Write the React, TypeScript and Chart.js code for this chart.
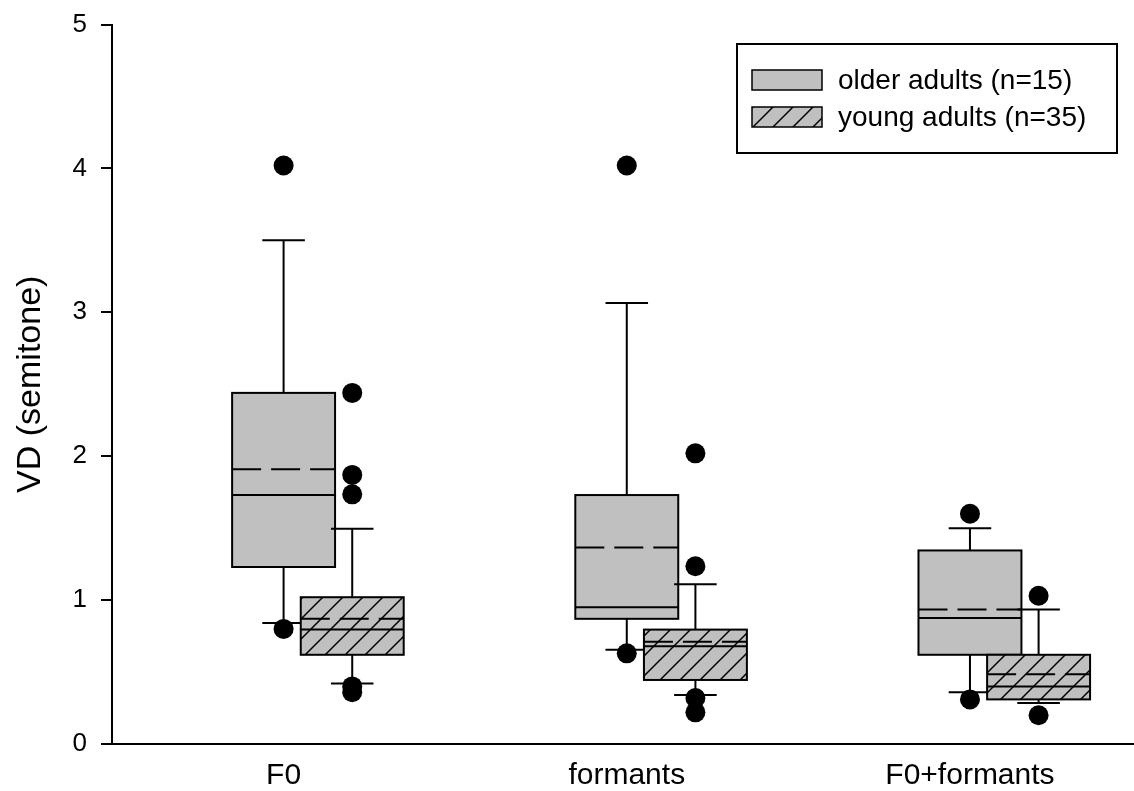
import React, { useEffect, useRef } from 'react';
import { Chart, registerables } from 'chart.js';

Chart.register(...registerables);

// ---- data ----
const categories = ['F0', 'formants', 'F0+formants'];
const groupNames = ['older adults (n=15)', 'young adults (n=35)'];
const yTickValues = [0, 1, 2, 3, 4, 5];

const olderLowerWhisker = [0.84, 0.655, 0.36];
const olderQ1 = [1.23, 0.87, 0.62];
const olderMedian = [1.73, 0.95, 0.875];
const olderMean = [1.91, 1.365, 0.935];
const olderQ3 = [2.44, 1.73, 1.345];
const olderUpperWhisker = [3.5, 3.065, 1.5];
const olderOutliers = [[4.02, 0.8], [4.02, 0.63], [1.6, 0.31]];

const youngLowerWhisker = [0.42, 0.34, 0.285];
const youngQ1 = [0.62, 0.445, 0.31];
const youngMedian = [0.795, 0.68, 0.4];
const youngMean = [0.87, 0.71, 0.485];
const youngQ3 = [1.02, 0.795, 0.62];
const youngUpperWhisker = [1.495, 1.11, 0.935];
const youngOutliers = [[2.44, 1.87, 1.735, 0.4, 0.36], [2.02, 1.235, 0.32, 0.22], [1.03, 0.2]];

const FONT = '"Liberation Sans", Arial, Helvetica, sans-serif';
const GRAY = '#c0c0c0';

const groups = [
  { offset: 0, lw: olderLowerWhisker, q1: olderQ1, med: olderMedian, mean: olderMean, q3: olderQ3, uw: olderUpperWhisker, hatch: false },
  { offset: 0.2, lw: youngLowerWhisker, q1: youngQ1, med: youngMedian, mean: youngMean, q3: youngQ3, uw: youngUpperWhisker, hatch: true },
];
const BOX_HALF = 0.15;
const CAP_HALF = 0.062;

function makeHatch(ctx: CanvasRenderingContext2D): CanvasPattern | string {
  const c = document.createElement('canvas');
  c.width = 20;
  c.height = 20;
  const g = c.getContext('2d');
  if (!g) return GRAY;
  g.fillStyle = GRAY;
  g.fillRect(0, 0, 20, 20);
  g.strokeStyle = '#000';
  g.lineWidth = 1.5;
  g.beginPath();
  g.moveTo(-10, 10); g.lineTo(10, -10);
  g.moveTo(0, 20); g.lineTo(20, 0);
  g.moveTo(10, 30); g.lineTo(30, 10);
  g.stroke();
  return ctx.createPattern(c, 'repeat') || GRAY;
}

const boxPlugin = {
  id: 'boxes',
  beforeDatasetsDraw(chart: any) {
    const { ctx, scales, chartArea } = chart;
    const x = scales.x;
    const y = scales.y;
    const hatch = makeHatch(ctx);
    ctx.save();
    groups.forEach((g) => {
      categories.forEach((_, i) => {
        const cx = x.getPixelForValue(i + 1 + g.offset);
        const l = x.getPixelForValue(i + 1 + g.offset - BOX_HALF);
        const r = x.getPixelForValue(i + 1 + g.offset + BOX_HALF);
        const capL = x.getPixelForValue(i + 1 + g.offset - CAP_HALF);
        const capR = x.getPixelForValue(i + 1 + g.offset + CAP_HALF);
        const yq1 = y.getPixelForValue(g.q1[i]);
        const yq3 = y.getPixelForValue(g.q3[i]);
        const ylw = y.getPixelForValue(g.lw[i]);
        const yuw = y.getPixelForValue(g.uw[i]);
        const ymed = y.getPixelForValue(g.med[i]);
        const ymean = y.getPixelForValue(g.mean[i]);
        ctx.strokeStyle = '#000';
        ctx.lineWidth = 2;
        ctx.setLineDash([]);
        // whiskers
        ctx.beginPath();
        ctx.moveTo(cx, yq3); ctx.lineTo(cx, yuw);
        ctx.moveTo(capL, yuw); ctx.lineTo(capR, yuw);
        ctx.moveTo(cx, yq1); ctx.lineTo(cx, ylw);
        ctx.moveTo(capL, ylw); ctx.lineTo(capR, ylw);
        ctx.stroke();
        // box
        ctx.fillStyle = g.hatch ? hatch : GRAY;
        ctx.fillRect(l, yq3, r - l, yq1 - yq3);
        ctx.strokeRect(l, yq3, r - l, yq1 - yq3);
        // median
        ctx.beginPath();
        ctx.moveTo(l, ymed); ctx.lineTo(r, ymed);
        ctx.stroke();
        // mean
        ctx.setLineDash([29, 10]);
        ctx.beginPath();
        ctx.moveTo(l, ymean); ctx.lineTo(r, ymean);
        ctx.stroke();
        ctx.setLineDash([]);
      });
    });

    // legend
    const lx = chartArea.right - 397;
    const ly = chartArea.top + 19.5;
    const lw = 380;
    const lh = 109;
    ctx.fillStyle = '#fff';
    ctx.fillRect(lx, ly, lw, lh);
    ctx.lineWidth = 2;
    ctx.strokeStyle = '#000';
    ctx.strokeRect(lx, ly, lw, lh);
    groupNames.forEach((name, k) => {
      const sy = ly + 26 + k * 37;
      ctx.fillStyle = k === 1 ? hatch : GRAY;
      ctx.fillRect(lx + 15, sy, 70, 20);
      ctx.lineWidth = 1.5;
      ctx.strokeRect(lx + 15, sy, 70, 20);
      ctx.fillStyle = '#000';
      ctx.font = `28px ${FONT}`;
      ctx.textAlign = 'left';
      ctx.textBaseline = 'middle';
      ctx.fillText(name, lx + 101, sy + 11);
    });
    ctx.restore();
  },
};

export default function App() {
  const ref = useRef<HTMLCanvasElement>(null);
  useEffect(() => {
    if (!ref.current) return;
    const outlierData = (arr: number[][], off: number) =>
      arr.flatMap((vals, i) => vals.map((v) => ({ x: i + 1 + off, y: v })));
    const chart = new Chart(ref.current, {
      type: 'scatter',
      data: {
        datasets: [
          {
            label: groupNames[0] + ' outliers',
            data: outlierData(olderOutliers, 0),
            pointRadius: 10,
            pointBackgroundColor: '#000',
            pointBorderColor: '#000',
            pointBorderWidth: 0,
          },
          {
            label: groupNames[1] + ' outliers',
            data: outlierData(youngOutliers, 0.2),
            pointRadius: 10,
            pointBackgroundColor: '#000',
            pointBorderColor: '#000',
            pointBorderWidth: 0,
          },
        ],
      },
      options: {
        responsive: false,
        animation: false,
        layout: { autoPadding: false, padding: { top: 24.5, left: 0, right: 0, bottom: 0 } },
        plugins: { legend: { display: false }, tooltip: { enabled: false } },
        scales: {
          x: {
            type: 'linear',
            min: 0.5,
            max: 3.478,
            grid: { display: false, drawTicks: false },
            border: { display: true, color: '#000', width: 2 },
            afterBuildTicks: (s: any) => {
              s.ticks = categories.map((_, i) => ({ value: i + 1 }));
            },
            afterFit: (s: any) => {
              s.height = 47;
              s.paddingLeft = 0;
              s.paddingRight = 0;
            },
            ticks: {
              autoSkip: false,
              maxRotation: 0,
              padding: 14,
              color: '#000',
              font: { family: FONT, size: 30 },
              callback: (v: any) => categories[Math.round(Number(v)) - 1] ?? '',
            },
          },
          y: {
            min: 0,
            max: 5,
            afterBuildTicks: (s: any) => {
              s.ticks = yTickValues.map((v) => ({ value: v }));
            },
            afterFit: (s: any) => {
              s.width = 112;
              s.paddingTop = 0;
              s.paddingBottom = 0;
            },
            grid: { drawOnChartArea: false, drawTicks: true, tickLength: 11, color: '#000', lineWidth: 2 },
            border: { display: true, color: '#000', width: 2 },
            ticks: {
              padding: 14,
              color: '#000',
              font: { family: FONT, size: 26 },
            },
            title: {
              display: true,
              text: 'VD (semitone)',
              color: '#000',
              font: { family: FONT, size: 34 },
              padding: { top: 10, bottom: 0 },
            },
          },
        },
      },
      plugins: [boxPlugin],
    });
    return () => chart.destroy();
  }, []);
  return (
    <div style={{ position: 'absolute', left: 0, top: 0, width: 1134, height: 791 }}>
      <canvas ref={ref} width={1134} height={791} style={{ display: 'block' }} />
    </div>
  );
}
